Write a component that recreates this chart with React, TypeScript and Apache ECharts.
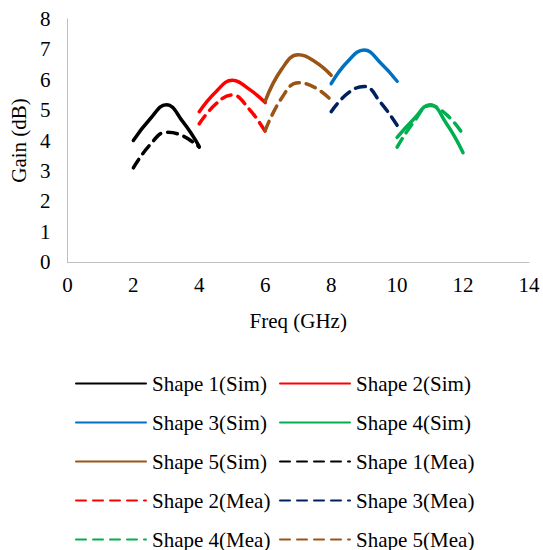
import React, { useEffect, useRef } from "react";
import * as echarts from "echarts";

const shape1Sim = [[2, 4.0], [2.5, 4.7], [3, 5.18], [3.5, 4.62], [4, 3.8]];
const shape2Sim = [[4, 4.95], [4.5, 5.6], [5, 5.98], [5.5, 5.7], [6, 5.25]];
const shape3Sim = [[8, 5.87], [8.5, 6.6], [9, 6.98], [9.5, 6.55], [10, 5.95]];
const shape4Sim = [[10, 4.1], [10.5, 4.7], [11, 5.18], [11.5, 4.55], [12, 3.6]];
const shape5Sim = [[6, 5.3], [6.5, 6.35], [7, 6.82], [7.5, 6.6], [8, 6.15]];
const shape1Mea = [[2, 3.1], [2.5, 3.85], [3, 4.27], [3.5, 4.15], [4, 3.78]];
const shape2Mea = [[4, 4.55], [4.5, 5.2], [5, 5.5], [5.5, 5.05], [6, 4.3]];
const shape3Mea = [[8, 4.95], [8.5, 5.55], [9, 5.78], [9.5, 5.25], [10, 4.5]];
const shape4Mea = [[10, 3.78], [10.5, 4.6], [11, 5.15], [11.5, 4.85], [12, 4.2]];
const shape5Mea = [[6, 4.33], [6.5, 5.4], [7, 5.9], [7.5, 5.75], [8, 5.33]];

const seriesDefs = [
  { name: "Shape 1(Sim)", data: shape1Sim, color: "#000000", dashed: false },
  { name: "Shape 2(Sim)", data: shape2Sim, color: "#FF0000", dashed: false },
  { name: "Shape 3(Sim)", data: shape3Sim, color: "#0070C0", dashed: false },
  { name: "Shape 4(Sim)", data: shape4Sim, color: "#00B050", dashed: false },
  { name: "Shape 5(Sim)", data: shape5Sim, color: "#9A5516", dashed: false },
  { name: "Shape 1(Mea)", data: shape1Mea, color: "#000000", dashed: true },
  { name: "Shape 2(Mea)", data: shape2Mea, color: "#FF0000", dashed: true },
  { name: "Shape 3(Mea)", data: shape3Mea, color: "#002060", dashed: true },
  { name: "Shape 4(Mea)", data: shape4Mea, color: "#00B050", dashed: true },
  { name: "Shape 5(Mea)", data: shape5Mea, color: "#9A5516", dashed: true },
];

const legendLeft = ["Shape 1(Sim)", "Shape 3(Sim)", "Shape 5(Sim)", "Shape 2(Mea)", "Shape 4(Mea)"];
const legendRight = ["Shape 2(Sim)", "Shape 4(Sim)", "Shape 1(Mea)", "Shape 3(Mea)", "Shape 5(Mea)"];

const FONT = "'Liberation Serif', 'Times New Roman', serif";

export default function App() {
  const ref = useRef<HTMLDivElement>(null);
  useEffect(() => {
    if (!ref.current) return;
    const chart = echarts.init(ref.current, null, { renderer: "svg" });
    const legendCommon = {
      orient: "vertical",
      top: 368,
      height: 200,
      itemWidth: 70,
      itemHeight: 14,
      itemGap: 18,
      itemStyle: { opacity: 0 },
      textStyle: { fontFamily: FONT, fontSize: 21, color: "#000", lineHeight: 21, padding: [0, 0, 0, 1] },
    };
    chart.setOption({
      animation: false,
      backgroundColor: "#fff",
      textStyle: { fontFamily: FONT },
      grid: { left: 65, right: 14, top: 19, bottom: 288, containLabel: false },
      xAxis: {
        type: "value",
        min: 0,
        max: 14,
        interval: 2,
        name: "Freq (GHz)",
        nameLocation: "middle",
        nameGap: 48,
        nameTextStyle: { fontFamily: FONT, fontSize: 21, color: "#000", lineHeight: 21 },
        axisLine: { show: true, lineStyle: { color: "#BFBFBF", width: 1 } },
        axisTick: { show: false },
        splitLine: { show: false },
        axisLabel: { fontFamily: FONT, fontSize: 21, color: "#000", margin: 12, lineHeight: 21 },
      },
      yAxis: {
        type: "value",
        min: 0,
        max: 8,
        interval: 1,
        name: "Gain (dB)",
        nameLocation: "middle",
        nameGap: 38,
        nameTextStyle: { fontFamily: FONT, fontSize: 21, color: "#000" },
        axisLine: { show: true, lineStyle: { color: "#BFBFBF", width: 1 } },
        axisTick: { show: false },
        splitLine: { show: false },
        axisLabel: { fontFamily: FONT, fontSize: 21, color: "#000", margin: 17 },
      },
      legend: [
        { ...legendCommon, left: 70, data: legendLeft },
        { ...legendCommon, left: 274, data: legendRight },
      ],
      series: seriesDefs.map((s) => ({
        name: s.name,
        type: "line",
        data: s.data,
        smooth: 0.45,
        symbol: "none",
        color: s.color,
        lineStyle: {
          color: s.color,
          width: 3.5,
          type: s.dashed ? [10, 7] : "solid",
          cap: "round",
        },
      })),
    });
    return () => chart.dispose();
  }, []);
  return <div ref={ref} style={{ width: 543, height: 550, position: "fixed", left: 0, top: 0 }} />;
}
